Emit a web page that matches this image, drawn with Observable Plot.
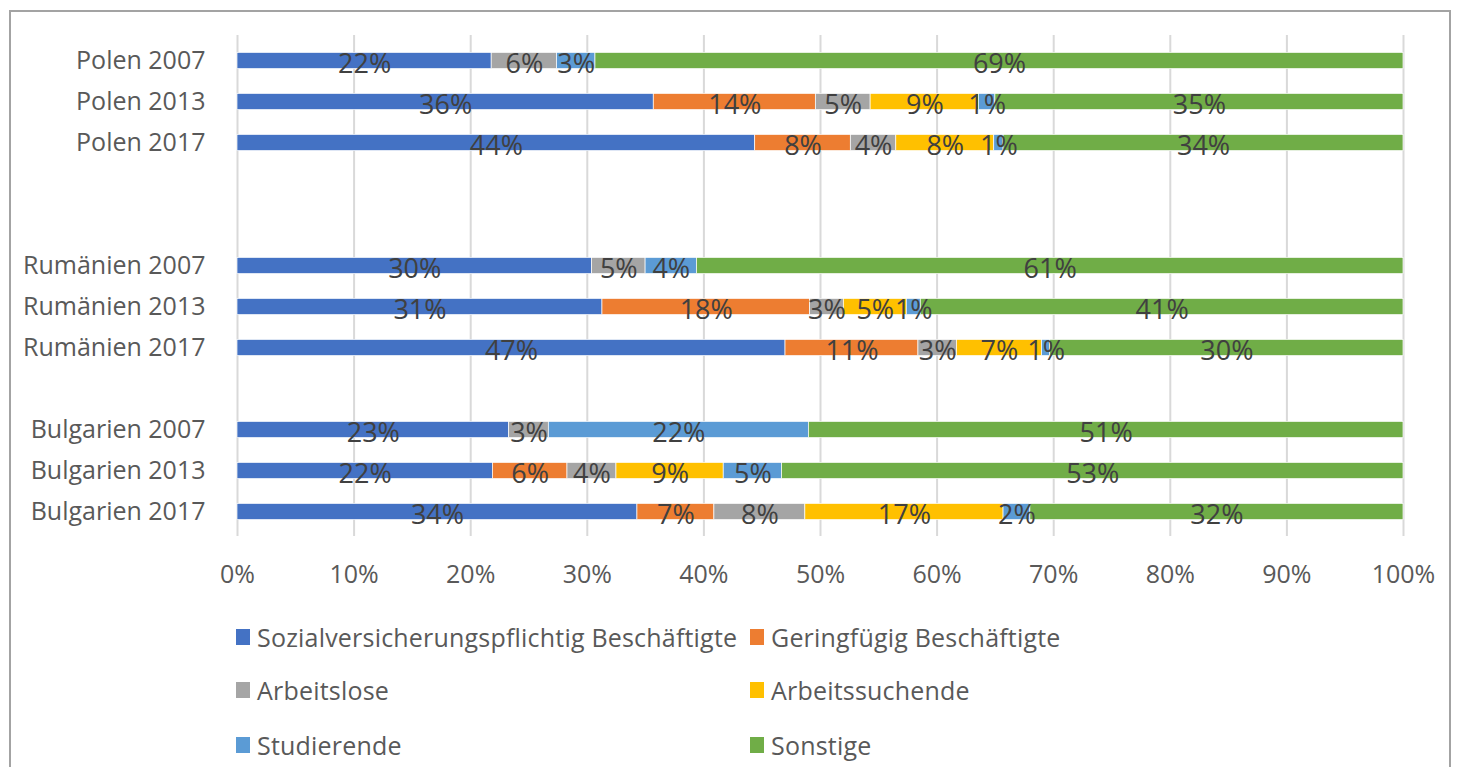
<!DOCTYPE html>
<html>
<head>
<meta charset="utf-8">
<script src="https://cdn.jsdelivr.net/npm/d3@7"></script>
<script src="https://cdn.jsdelivr.net/npm/@observablehq/plot@0.6"></script>
<style>
  html, body { margin: 0; padding: 0; background: #fff; overflow: hidden; }
  #wrap { position: relative; width: 1458px; height: 767px; font-family: "Open Sans", sans-serif; }
  #frame { position: absolute; left: 9px; top: 10px; width: 1442px; height: 820px; box-sizing: border-box;
           border: 2px solid #a3a3a3; pointer-events: none; z-index: 5; }
  #chart { position: absolute; left: 0; top: 0; }
  #legend { position: absolute; left: 0; top: 600px; width: 1458px; height: 167px; }
  .item { position: absolute; display: flex; align-items: center; height: 30px; font-size: 25px; color: #595959; white-space: nowrap; letter-spacing: 0.2px; }
  .sw { width: 14px; height: 16px; margin-right: 7px; flex: none; }
</style>
</head>
<body>
<div id="wrap">
  <div id="chart"></div>
  <div id="legend"></div>
  <div id="frame"></div>
</div>
<script>
// Categories (series) and colours
const categories = ["Sozialversicherungspflichtig Beschäftigte", "Geringfügig Beschäftigte", "Arbeitslose", "Arbeitssuchende", "Studierende", "Sonstige"];
const colors = ["#4472C4", "#ED7D31", "#A5A5A5", "#FFC000", "#5B9BD5", "#70AD47"];

// Rows (y categories)
const rows = ["Polen 2007", "Polen 2013", "Polen 2017", "Rumänien 2007", "Rumänien 2013", "Rumänien 2017", "Bulgarien 2007", "Bulgarien 2013", "Bulgarien 2017"];
// y domain including empty spacer rows
const yDomain = ["Polen 2007", "Polen 2013", "Polen 2017", "_gap1", "_gap2", "Rumänien 2007", "Rumänien 2013", "Rumänien 2017", "_gap3", "Bulgarien 2007", "Bulgarien 2013", "Bulgarien 2017"];

// Series values (percent)
const sozial          = [21.8, 35.7, 44.4, 30.4, 31.3, 47.0, 23.3, 21.9, 34.3];
const geringfuegig    = [0,    13.9,  8.2,  0,   17.8, 11.4,  0,    6.4,  6.6];
const arbeitslose     = [5.6,   4.7,  3.9,  4.6,  2.9,  3.3,  3.4,  4.2,  7.8];
const arbeitssuchende = [0,     9.3,  8.4,  0,    5.4,  7.3,  0,    9.2, 17.0];
const studierende     = [3.3,   1.4,  0.8,  4.4,  1.2,  0.7, 22.3,  5.0,  2.3];
const sonstige        = [69.3, 35.0, 34.3, 60.6, 41.4, 30.3, 51.0, 53.3, 32.0];

// x tick labels
const xTicks = [0, 10, 20, 30, 40, 50, 60, 70, 80, 90, 100];

const series = [sozial, geringfuegig, arbeitslose, arbeitssuchende, studierende, sonstige];
const data = [];
rows.forEach((row, j) => {
  series.forEach((vals, i) => {
    if (vals[j] > 0) data.push({row, cat: categories[i], value: vals[j]});
  });
});

const font = "Open Sans";
const chart = Plot.plot({
  width: 1458,
  height: 600,
  marginLeft: 237,
  marginRight: 55,
  marginTop: 35,
  marginBottom: 64,
  style: {background: "transparent", fontFamily: font, overflow: "visible"},
  x: {domain: [0, 100]},
  y: {domain: yDomain, padding: 0},
  color: {domain: categories, range: colors},
  marks: [
    Plot.gridX(xTicks, {stroke: "#d9d9d9", strokeOpacity: 1, strokeWidth: 2}),
    Plot.barX(data, Plot.stackX({x: "value", y: "row", fill: "cat", order: categories,
      insetTop: 12.4, insetBottom: 12.4, stroke: "white", strokeWidth: 0.7})),
    Plot.text(data, Plot.stackX({x: "value", y: "row", z: "cat", order: categories,
      text: d => Math.round(d.value) + "%", fontSize: 27, fill: "#404040", dy: 3})),
    Plot.axisX(xTicks, {tickSize: 0, tickPadding: 29, tickFormat: d => d + "%", fontSize: 25, fill: "#595959", label: null}),
    Plot.axisY({tickSize: 0, tickPadding: 32, tickFormat: d => d.startsWith("_") ? "" : d, fontSize: 25, fill: "#595959", label: null})
  ]
});
document.getElementById("chart").appendChild(chart);

// Legend (HTML, below the SVG)
const legend = document.getElementById("legend");
const legendPos = [[236, 22], [750, 22], [236, 75], [750, 75], [236, 130], [750, 130]];
categories.forEach((c, i) => {
  const it = document.createElement("div");
  it.className = "item";
  it.style.left = legendPos[i][0] + "px";
  it.style.top = legendPos[i][1] + "px";
  const sw = document.createElement("span");
  sw.className = "sw";
  sw.style.background = colors[i];
  const tx = document.createElement("span");
  tx.textContent = c;
  it.appendChild(sw);
  it.appendChild(tx);
  legend.appendChild(it);
});
</script>
</body>
</html>
